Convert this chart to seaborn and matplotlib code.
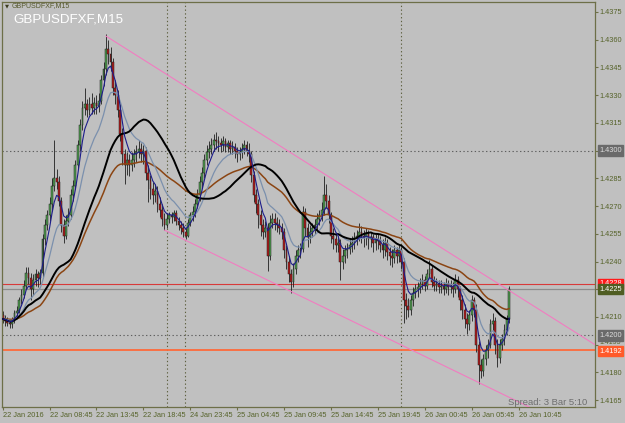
import numpy as np
import pandas as pd
import matplotlib
matplotlib.use("Agg")
import matplotlib.pyplot as plt
import seaborn as sns

# ---------------- data ----------------
symbol = "GBPUSDFXF,M15"
first_open = 1.4211

close = [
    1.4209, 1.4208, 1.4207, 1.4206, 1.4208, 1.4212, 1.4213, 1.4219, 1.4222, 1.4227,
    1.4234, 1.4231, 1.4225, 1.4230, 1.4233, 1.4231, 1.4234, 1.4252, 1.4260, 1.4265,
    1.4271, 1.4281, 1.4285, 1.4283, 1.4273, 1.4260, 1.4254, 1.4262, 1.4265, 1.4276,
    1.4281, 1.4292, 1.4303, 1.4314, 1.4323, 1.4325, 1.4322, 1.4325, 1.4323, 1.4326,
    1.4324, 1.4327, 1.4338, 1.4344, 1.4355, 1.4352, 1.4348, 1.4334, 1.4330, 1.4322,
    1.4309, 1.4298, 1.4292, 1.4295, 1.4292, 1.4295, 1.4298, 1.4299, 1.4301, 1.4298,
    1.4300, 1.4288, 1.4284, 1.4279, 1.4276, 1.4278, 1.4271, 1.4268, 1.4263, 1.4260,
    1.4263, 1.4265, 1.4264, 1.4266, 1.4262, 1.4260, 1.4258, 1.4256, 1.4254, 1.4261,
    1.4265, 1.4267, 1.4271, 1.4276, 1.4283, 1.4288, 1.4295, 1.4299, 1.4301, 1.4303,
    1.4306, 1.4305, 1.4304, 1.4303, 1.4305, 1.4302, 1.4304, 1.4301, 1.4302, 1.4300,
    1.4298, 1.4299, 1.4301, 1.4303, 1.4300, 1.4298, 1.4287, 1.4276, 1.4271, 1.4265,
    1.4260, 1.4256, 1.4258, 1.4243, 1.4261, 1.4263, 1.4261, 1.4260, 1.4258, 1.4256,
    1.4246, 1.4240, 1.4233, 1.4229, 1.4236, 1.4243, 1.4246, 1.4247, 1.4267, 1.4258,
    1.4253, 1.4256, 1.4258, 1.4260, 1.4263, 1.4265, 1.4268, 1.4276, 1.4273, 1.4265,
    1.4254, 1.4252, 1.4249, 1.4250, 1.4240, 1.4243, 1.4246, 1.4247, 1.4249, 1.4250,
    1.4253, 1.4254, 1.4256, 1.4254, 1.4253, 1.4255, 1.4252, 1.4253, 1.4250, 1.4252,
    1.4251, 1.4249, 1.4246, 1.4250, 1.4245, 1.4243, 1.4242, 1.4246, 1.4243, 1.4246,
    1.4240, 1.4219, 1.4216, 1.4214, 1.4219, 1.4223, 1.4225, 1.4226, 1.4228, 1.4230,
    1.4227, 1.4233, 1.4236, 1.4229, 1.4227, 1.4228, 1.4226, 1.4227, 1.4225, 1.4228,
    1.4226, 1.4227, 1.4225, 1.4230, 1.4225, 1.4219, 1.4214, 1.4209, 1.4206, 1.4211,
    1.4219, 1.4214, 1.4195, 1.4184, 1.4181, 1.4187, 1.4192, 1.4195, 1.4206, 1.4208,
    1.4195, 1.4188, 1.4195, 1.4198, 1.4203, 1.4209, 1.4225,
]

high = [
    1.4213, 1.4211, 1.4210, 1.4209, 1.4210, 1.4214, 1.4216, 1.4221, 1.4225, 1.4230,
    1.4237, 1.4237, 1.4234, 1.4233, 1.4236, 1.4235, 1.4236, 1.4255, 1.4263, 1.4268,
    1.4275, 1.4285, 1.4306, 1.4290, 1.4286, 1.4275, 1.4263, 1.4265, 1.4269, 1.4279,
    1.4284, 1.4295, 1.4306, 1.4317, 1.4327, 1.4334, 1.4328, 1.4329, 1.4331, 1.4329,
    1.4330, 1.4331, 1.4341, 1.4348, 1.4363, 1.4360, 1.4356, 1.4350, 1.4338, 1.4333,
    1.4325, 1.4312, 1.4301, 1.4299, 1.4298, 1.4299, 1.4301, 1.4303, 1.4306, 1.4304,
    1.4303, 1.4302, 1.4292, 1.4287, 1.4283, 1.4282, 1.4281, 1.4275, 1.4271, 1.4266,
    1.4266, 1.4267, 1.4267, 1.4268, 1.4268, 1.4264, 1.4262, 1.4261, 1.4258, 1.4263,
    1.4267, 1.4270, 1.4274, 1.4279, 1.4286, 1.4291, 1.4298, 1.4303, 1.4305, 1.4307,
    1.4309, 1.4310, 1.4308, 1.4307, 1.4308, 1.4307, 1.4306, 1.4306, 1.4305, 1.4304,
    1.4302, 1.4302, 1.4304, 1.4306, 1.4305, 1.4304, 1.4300, 1.4289, 1.4279, 1.4274,
    1.4268, 1.4263, 1.4262, 1.4261, 1.4265, 1.4266, 1.4266, 1.4264, 1.4263, 1.4261,
    1.4258, 1.4249, 1.4243, 1.4236, 1.4239, 1.4246, 1.4249, 1.4250, 1.4270, 1.4269,
    1.4261, 1.4260, 1.4261, 1.4263, 1.4266, 1.4268, 1.4272, 1.4286, 1.4282, 1.4276,
    1.4267, 1.4258, 1.4255, 1.4254, 1.4252, 1.4247, 1.4249, 1.4250, 1.4252, 1.4254,
    1.4256, 1.4257, 1.4261, 1.4259, 1.4257, 1.4258, 1.4257, 1.4256, 1.4255, 1.4255,
    1.4255, 1.4254, 1.4252, 1.4253, 1.4252, 1.4248, 1.4247, 1.4249, 1.4248, 1.4249,
    1.4248, 1.4242, 1.4223, 1.4220, 1.4222, 1.4226, 1.4228, 1.4229, 1.4231, 1.4233,
    1.4232, 1.4236, 1.4241, 1.4238, 1.4232, 1.4231, 1.4230, 1.4230, 1.4229, 1.4231,
    1.4230, 1.4230, 1.4229, 1.4233, 1.4232, 1.4227, 1.4222, 1.4217, 1.4212, 1.4214,
    1.4222, 1.4221, 1.4217, 1.4197, 1.4187, 1.4190, 1.4195, 1.4198, 1.4209, 1.4212,
    1.4210, 1.4198, 1.4198, 1.4201, 1.4206, 1.4211, 1.4227,
]

low = [
    1.4207, 1.4205, 1.4205, 1.4204, 1.4204, 1.4207, 1.4210, 1.4212, 1.4217, 1.4220,
    1.4225, 1.4228, 1.4219, 1.4222, 1.4227, 1.4226, 1.4228, 1.4231, 1.4249, 1.4257,
    1.4262, 1.4268, 1.4278, 1.4279, 1.4270, 1.4256, 1.4250, 1.4252, 1.4259, 1.4263,
    1.4273, 1.4279, 1.4290, 1.4300, 1.4311, 1.4319, 1.4318, 1.4319, 1.4320, 1.4320,
    1.4320, 1.4321, 1.4325, 1.4335, 1.4341, 1.4347, 1.4343, 1.4330, 1.4325, 1.4318,
    1.4305, 1.4292, 1.4282, 1.4287, 1.4286, 1.4289, 1.4291, 1.4294, 1.4296, 1.4294,
    1.4293, 1.4284, 1.4272, 1.4274, 1.4271, 1.4272, 1.4267, 1.4264, 1.4259, 1.4257,
    1.4258, 1.4261, 1.4261, 1.4262, 1.4260, 1.4257, 1.4255, 1.4253, 1.4252, 1.4253,
    1.4259, 1.4262, 1.4264, 1.4269, 1.4273, 1.4280, 1.4285, 1.4292, 1.4296, 1.4298,
    1.4300, 1.4301, 1.4300, 1.4299, 1.4300, 1.4299, 1.4299, 1.4298, 1.4298, 1.4296,
    1.4294, 1.4295, 1.4296, 1.4298, 1.4297, 1.4294, 1.4283, 1.4272, 1.4266, 1.4258,
    1.4254, 1.4252, 1.4253, 1.4235, 1.4241, 1.4258, 1.4257, 1.4256, 1.4255, 1.4252,
    1.4242, 1.4236, 1.4229, 1.4223, 1.4226, 1.4233, 1.4240, 1.4242, 1.4245, 1.4254,
    1.4248, 1.4250, 1.4253, 1.4255, 1.4257, 1.4260, 1.4262, 1.4265, 1.4269, 1.4261,
    1.4250, 1.4247, 1.4245, 1.4245, 1.4230, 1.4236, 1.4239, 1.4242, 1.4244, 1.4245,
    1.4247, 1.4249, 1.4251, 1.4250, 1.4248, 1.4249, 1.4247, 1.4248, 1.4245, 1.4246,
    1.4247, 1.4245, 1.4242, 1.4243, 1.4241, 1.4238, 1.4237, 1.4239, 1.4239, 1.4240,
    1.4236, 1.4207, 1.4209, 1.4210, 1.4211, 1.4216, 1.4220, 1.4221, 1.4223, 1.4225,
    1.4224, 1.4225, 1.4231, 1.4226, 1.4224, 1.4224, 1.4223, 1.4223, 1.4222, 1.4223,
    1.4222, 1.4223, 1.4221, 1.4223, 1.4221, 1.4214, 1.4209, 1.4204, 1.4201, 1.4203,
    1.4208, 1.4210, 1.4191, 1.4174, 1.4177, 1.4178, 1.4184, 1.4188, 1.4193, 1.4203,
    1.4190, 1.4183, 1.4185, 1.4192, 1.4195, 1.4200, 1.4207,
]

time_labels = ["22 Jan 2016", "22 Jan 08:45", "22 Jan 13:45", "22 Jan 18:45",
               "24 Jan 23:45", "25 Jan 04:45", "25 Jan 09:45", "25 Jan 14:45",
               "25 Jan 19:45", "26 Jan 00:45", "26 Jan 05:45", "26 Jan 10:45"]
bars_per_label = 20

price_ticks = [1.4165, 1.4180, 1.4195, 1.4210, 1.4225, 1.4240, 1.4255, 1.4270,
               1.4285, 1.4300, 1.4315, 1.4330, 1.4345, 1.4360, 1.4375]

level_dotted = [1.4300, 1.4200]
ask_price = 1.4228
bid_price = 1.4225
support_level = 1.4192
squeezed_tick = 1.4195

trend_upper = [(44, 1.4362), (252.6, 1.4195)]
trend_lower = [(69, 1.4257), (225, 1.4161)]
day_separators = [70.0, 77.7, 169.8]

spread_text = "Spread: 3 Bar 5:10"

# ---------------- styling ----------------
sns.set_theme(style="white")
plt.rcParams["font.family"] = ["Liberation Sans", "DejaVu Sans"]

BG = "#C0C0C0"
FRAME = "#6d6f48"
AXTXT = "#56632a"

n = len(close)
assert len(high) == n and len(low) == n
idx = np.arange(n)
c = np.array(close)
o = np.concatenate([[first_open], c[:-1]])
h = np.array(high)
l = np.array(low)

df = pd.DataFrame({"bar": idx, "close": c})
df["ma_fast"] = df["close"].ewm(span=5, adjust=False).mean()
df["ma_mid"] = df["close"].ewm(span=13, adjust=False).mean()
df["ma_slow"] = df["close"].rolling(30, min_periods=1).mean()
df["ma_long"] = df["close"].ewm(span=45, adjust=False).mean()

W, H = 625, 423
fig = plt.figure(figsize=(W / 100, H / 100), dpi=100, facecolor=BG)
ax = fig.add_axes([2 / W, 1 - 407 / H, 593 / W, 405 / H])
ax.set_facecolor(BG)

# horizontal price lines and separators
for lv in level_dotted:
    ax.axhline(lv, color="#5e5e5e", lw=0.8, ls=(0, (1.2, 2.2)), zorder=1)
for xs in day_separators:
    ax.axvline(xs, color="#5e6040", lw=0.8, ls=(0, (1.2, 2.2)), zorder=1)
ax.axhline(ask_price, color="#d83a3a", lw=0.8, zorder=1)
ax.axhline(bid_price, color="#8c8c8c", lw=0.9, zorder=1)
ax.axhline(support_level, color="#ff6a3a", lw=1.3, zorder=1)

# candles
up = c >= o
ax.vlines(idx, l, h, color="#1e1e1e", lw=0.6, zorder=2)
body_bottom = np.minimum(o, c)
body_h = np.maximum(np.abs(c - o), 0.00002)
ax.bar(idx[up], body_h[up], bottom=body_bottom[up], width=0.78,
       color="#4f9d4f", edgecolor="#1e1e1e", linewidth=0.35, zorder=2.5)
ax.bar(idx[~up], body_h[~up], bottom=body_bottom[~up], width=0.78,
       color="#b31b1b", edgecolor="#1e1e1e", linewidth=0.35, zorder=2.5)

# moving averages
sns.lineplot(data=df, x="bar", y="ma_long", color="#8b4513", lw=1.1, ax=ax, zorder=3)
sns.lineplot(data=df, x="bar", y="ma_slow", color="#000000", lw=1.4, ax=ax, zorder=3.2)
sns.lineplot(data=df, x="bar", y="ma_mid", color="#7b90ad", lw=0.9, ax=ax, zorder=3.1)
sns.lineplot(data=df, x="bar", y="ma_fast", color="#1c1c8a", lw=0.8, ax=ax, zorder=3.3)

# trend lines
for seg in (trend_upper, trend_lower):
    ax.plot([seg[0][0], seg[1][0]], [seg[0][1], seg[1][1]], color="#f27cc0",
            lw=0.8, zorder=4)

# axes limits
ax.set_xlim(-0.3, 252.6)
ax.set_ylim(1.41613, 1.43804)
ax.set_xlabel("")
ax.set_ylabel("")

# x ticks
xt = [i * bars_per_label for i in range(len(time_labels))]
ax.set_xticks(xt)
ax.set_xticklabels(time_labels, ha="left", fontsize=5.3, color=AXTXT)
ax.tick_params(axis="x", direction="out", length=2.5, width=0.8, color=FRAME, pad=0.8,
               bottom=True)

# y ticks on right
ax.yaxis.tick_right()
covered = {round(ask_price, 4), round(bid_price, 4), 1.4300, squeezed_tick}
ax.set_yticks(price_ticks)
ax.set_yticklabels(["" if round(p, 4) in covered else f"{p:.4f}" for p in price_ticks],
                   fontsize=5.3, color=AXTXT)
ax.tick_params(axis="y", direction="out", length=2.2, width=0.8, color=FRAME, pad=1.0,
               right=True, left=False)

for sp in ax.spines.values():
    sp.set_color(FRAME)
    sp.set_linewidth(0.9)

ytr = ax.get_yaxis_transform()
# regular label squeezed between two price boxes (nudged up a little)
ax.annotate(f"{squeezed_tick:.4f}", xy=(1, squeezed_tick), xycoords=ytr,
            xytext=(3.0, 1.6), textcoords="offset points", ha="left", va="center",
            fontsize=5.0, color=AXTXT, annotation_clip=False, zorder=9)

# price boxes on right axis
boxes = [
    (1.4300, "#6a6a6a", "#dcdcdc"),
    (1.4200, "#6a6a6a", "#dcdcdc"),
    (ask_price, "#ff1a1a", "white"),
    (bid_price, "#4f5d22", "white"),
    (support_level, "#ff5a2a", "white"),
]
for p, fc, tc in boxes:
    dy = -0.6 if p == support_level else 0
    ax.annotate(f"{p:.4f}", xy=(1, p), xycoords=ytr, xytext=(3.0, dy),
                textcoords="offset points", ha="left", va="center",
                fontsize=5.3, color=tc, annotation_clip=False, zorder=10,
                bbox=dict(boxstyle="square,pad=0.22", fc=fc, ec=fc))

# texts
fig.text(5 / W, 1 - 6 / H, "\u25BC", fontsize=3.8, color="#3c3c20",
         family=["DejaVu Sans"], va="center", ha="left")
fig.text(12 / W, 1 - 6 / H, symbol, fontsize=5.0, color="#55582c",
         va="center", ha="left")
fig.text(13 / W, 1 - 20 / H, symbol, fontsize=9.6, color="white",
         va="center", ha="left")
fig.text(587 / W, 1 - 402 / H, spread_text, fontsize=6.8, color="#6e6e6e",
         va="center", ha="right")

fig.savefig("out.png", dpi=100, facecolor=BG)
